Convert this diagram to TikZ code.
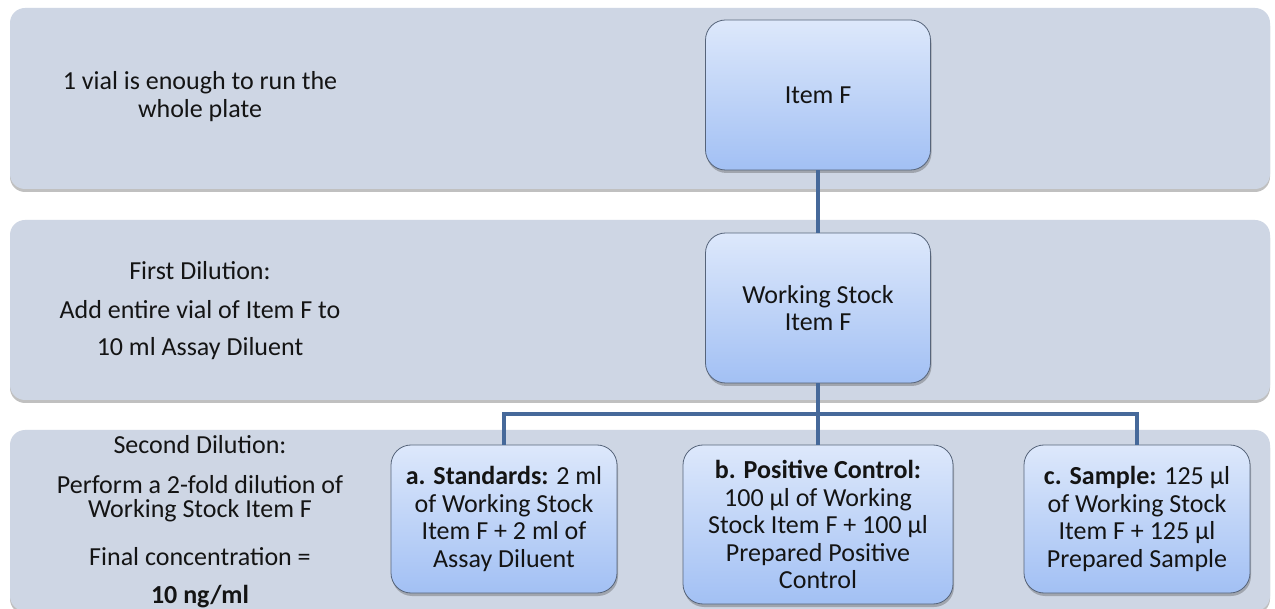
\documentclass[tikz,border=0pt]{standalone}
\usepackage{fontspec}
\setmainfont{Carlito}
\usetikzlibrary{shadows}
\definecolor{bandfill}{HTML}{CED6E4}
\definecolor{boxtop}{HTML}{DDE8FB}
\definecolor{boxbot}{HTML}{A2C0F4}
\definecolor{boxline}{HTML}{56647A}
\definecolor{link}{HTML}{46699A}
\definecolor{txt}{HTML}{141414}
\tikzset{
  band/.style={fill=bandfill, draw=none, rounded corners=15pt, inner sep=0pt,
    drop shadow={shadow xshift=0pt, shadow yshift=-3pt, opacity=0.35, fill=black!70}},
  itembox/.style={draw=boxline, line width=0.8pt, rounded corners=20pt, top color=boxtop, bottom color=boxbot,
    align=center, inner sep=0pt, text=txt, font=\fontsize{26}{27.5}\selectfont,
    drop shadow={shadow xshift=1pt, shadow yshift=-3pt, opacity=0.35, fill=black!70}},
  note/.style={align=center, text=txt, inner sep=0pt, font=\fontsize{26}{28}\selectfont},
  conn/.style={draw=link, line width=3.8pt}
}
\begin{document}
\begin{tikzpicture}[x=1pt,y=-1pt]
\useasboundingbox (0,0) rectangle (1275,609);
\fill[white] (0,0) rectangle (1275,609);
\begin{scope}
\clip (0,0) rectangle (1275,609);
% bands
\node[band, minimum width=1260pt, minimum height=181pt] (band1) at (640,98.5) {};
\node[band, minimum width=1260pt, minimum height=180pt] (band2) at (640,310) {};
\node[band, minimum width=1260pt, minimum height=181pt] (band3) at (640,520.5) {};
% left texts
\node[note] (t1) at (200,97) {1 vial is enough to run the\\whole plate};
\node[note] (t2a) at (200,271) {First Dilution:};
\node[note] (t2b) at (200,310) {Add entire vial of Item F to};
\node[note] (t2c) at (200,349) {10 ml Assay Diluent};
\node[note] (t3a) at (200,445) {Second Dilution:};
\node[note, font=\fontsize{26}{24}\selectfont] (t3b) at (200,499) {Perform a 2-fold dilution of\\Working Stock Item F};
\node[note] (t3c) at (200,557) {Final concentration =};
\node[note, font=\fontsize{26}{28}\selectfont\bfseries] (t3d) at (200,597) {10 ng/ml};
% boxes
\node[itembox, minimum width=225pt, minimum height=150pt] (itemF) at (818,95) {Item F};
\node[itembox, minimum width=225pt, minimum height=150pt] (ws) at (818,308) {Working Stock\\Item F};
\node[itembox, minimum width=226pt, minimum height=148pt] (a) at (504,519) {\textbf{a. Standards:} 2 ml\\of Working Stock\\Item F + 2 ml of\\Assay Diluent};
\node[itembox, minimum width=270pt, minimum height=159pt] (b) at (818,524.5) {\textbf{b. Positive Control:}\\100 µl of Working\\Stock Item F + 100 µl\\Prepared Positive\\Control};
\node[itembox, minimum width=226pt, minimum height=148pt] (c) at (1137,519) {\textbf{c. Sample:} 125 µl\\of Working Stock\\Item F + 125 µl\\Prepared Sample};
% connectors
\coordinate (jn) at (818,414);
\draw[conn] (itemF.south) -- (ws.north);
\draw[conn] (ws.south) -- (b.north);
\draw[conn] (a.north) |- (jn) -| (c.north);
\end{scope}
\end{tikzpicture}
\end{document}
